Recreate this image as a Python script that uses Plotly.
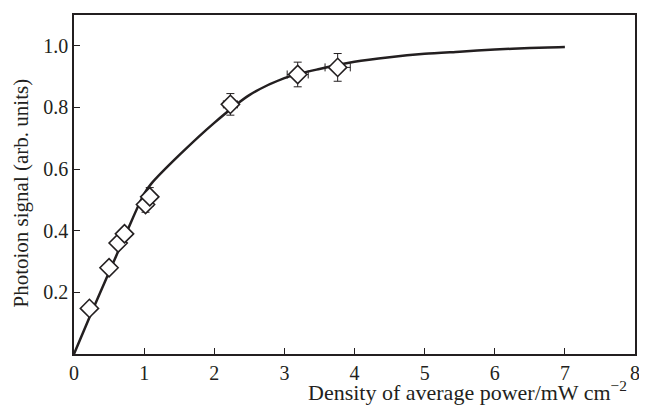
import plotly.graph_objects as go

# fitted curve
curve_x = [0, 0.25, 0.5, 0.75, 1.0, 1.1, 1.5, 2.0, 2.5, 3.0, 3.5, 4.0, 4.5, 5.0, 5.5, 6.0, 6.5, 7.0]
curve_y = [0, 0.135, 0.265, 0.395, 0.52, 0.552, 0.645, 0.75, 0.84, 0.895, 0.925, 0.948,
           0.963, 0.974, 0.981, 0.988, 0.993, 0.996]

# measured points
pts_x = [0.22, 0.5, 0.63, 0.72, 1.02, 1.08, 2.23, 3.19, 3.76]
pts_y = [0.148, 0.28, 0.36, 0.39, 0.485, 0.51, 0.81, 0.907, 0.93]
err_y = [0, 0, 0.012, 0.015, 0.025, 0.03, 0.035, 0.04, 0.045]
err_x = [0, 0, 0, 0, 0, 0, 0.1, 0.15, 0.18]

x_ticks = [0, 1, 2, 3, 4, 5, 6, 7, 8]
y_ticks = [0.2, 0.4, 0.6, 0.8, 1.0]

ink = "#231f20"
font = "Liberation Serif, Times New Roman, serif"

fig = go.Figure()
fig.add_trace(go.Scatter(x=curve_x, y=curve_y, mode="lines",
                         line=dict(color=ink, width=2.5, shape="spline", smoothing=0.8),
                         hoverinfo="skip"))
fig.add_trace(go.Scatter(
    x=pts_x, y=pts_y, mode="markers",
    marker=dict(symbol="diamond", size=14, color="white", line=dict(color=ink, width=1.6)),
    error_y=dict(type="data", array=err_y, color=ink, thickness=1, width=4),
    error_x=dict(type="data", array=err_x, color=ink, thickness=1, width=4),
))

axis_common = dict(showline=True, linecolor=ink, linewidth=1.5, mirror=True,
                   ticks="inside", ticklen=6, tickwidth=1.2, tickcolor=ink,
                   showgrid=False, zeroline=False,
                   tickfont=dict(family=font, size=20, color=ink))

fig.update_xaxes(range=[0, 8], tickvals=x_ticks, ticktext=[str(v) for v in x_ticks], **axis_common)
fig.update_yaxes(range=[0, 1.1], tickvals=y_ticks, ticktext=["%.1f" % v for v in y_ticks],
                 **axis_common)

# axis titles placed as annotations to match the reference positions
fig.add_annotation(text="Density of average power/mW cm<sup>−2</sup>", xref="paper", yref="paper",
                   x=1.0, y=0, xanchor="right", yanchor="top", yshift=-21, xshift=-6,
                   showarrow=False, font=dict(family=font, size=22, color=ink))
fig.add_annotation(text="Photoion signal (arb. units)", xref="paper", yref="paper",
                   x=0, y=0.5, xanchor="center", yanchor="middle", xshift=-54, yshift=-9,
                   textangle=-90, showarrow=False, font=dict(family=font, size=21, color=ink))

# the page body adds an 8px margin, so the figure is a little smaller than the window
fig.update_layout(width=639, height=398, showlegend=False,
                  margin=dict(l=66, r=12, t=5, b=52),
                  plot_bgcolor="white", paper_bgcolor="white")
fig.write_html("out.html")
